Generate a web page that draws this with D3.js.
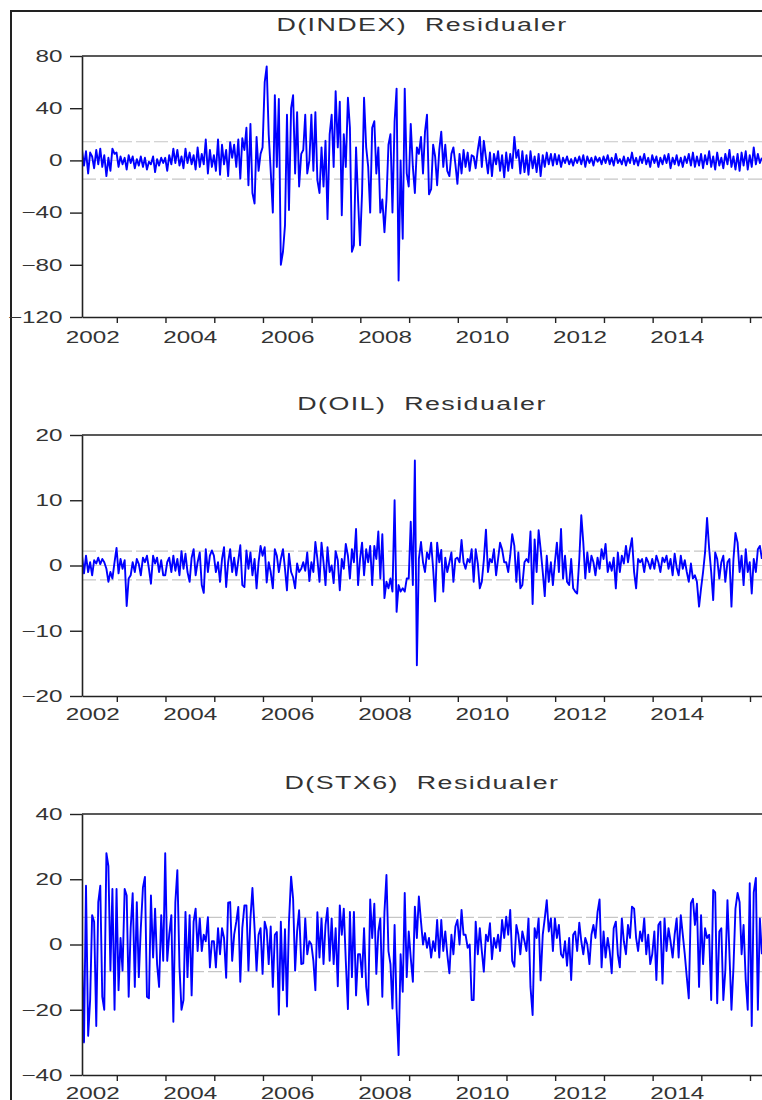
<!DOCTYPE html>
<html>
<head>
<meta charset="utf-8">
<script src="https://cdn.jsdelivr.net/npm/d3@7"></script>
<style>
  body{margin:0;background:#fff;}
  text{font-family:"Liberation Sans",Arial,sans-serif;}
</style>
</head>
<body>
<svg id="chart" width="762" height="1100"></svg>
<script>
'use strict';
// half-monthly residuals, first point mid April 2002
var startDate = new Date(2002, 3, 15),
    endDate = new Date(2016, 3, 15),
    perYear = 24;

var indexResid = [
  8, -4, 7, -10, 6, 3, -6, 8, -3, 9, -5, 4, -12, 2, -8, 9, 5,                           //2002
  6, -5, 3, -3, 2, -7, 4, -2, 3, -6, 1, -4, 3, -5, 2, -7, -1, -3, 3, -9, 1, -4, 2, -2,   //2003
  2, -8, 4, -3, 9, -2, 8, -4, 3, -6, 9, -2, 6, -3, 4, -7, 10, -5, 5, -3, 16, -10, 8, -5, //2004
  4, -8, 16, -11, 12, -3, 8, -12, 14, 2, 12, -5, 16, -14, 17, 8, 25, -19, 28, -25, -33, 18, -8, 5,
  10, 60, 72, 20, -8, -40, 50, -5, 47, -80, -70, -50, 35, -38, 40, 50, -10, 37, -20, 5, 8, 35, -10, 0,
  35, -8, 37, -15, -25, 10, -20, 15, -45, 20, 35, -5, 53, 10, 45, -42, 20, -5, 48, 25, -70, -65, 10, -30,
  -65, -25, 48, 10, -5, -40, 25, 30, -10, 10, -40, -30, -55, -30, 12, 20, -40, 30, 55, -92, 0, -60, 55, -10,
  -20, 28, -5, -25, 10, 5, 18, -10, 22, 35, -26, -22, 12, 3, -19, 8, 22, -5, 12, -8, -12, 5, 10, -3,
  -18, 5, -10, 8, -5, 6, -8, 4, 3, -6, 8, 18, -5, 15, 2, -10, 6, -12, 5, -3, 7, -8, 4, -13,
  6, -8, 5, -6, 18, 2, 8, -10, 7, -9, 4, -11, 7, -6, 3, -9, 5, -12, 4, -5, 6, -3, 5, -4,
  5, -3, 4, -5, 2, -2, 3, -3, 1, -4, 2, -2, 3, -3, 4, -5, 3, -2, 2, -4, 3, -1, 2, -3,
  3, -2, 4, -3, 2, -4, 5, -2, 1, -3, 3, -4, 2, -2, 6, -3, 2, -4, 3, -2, 5, -3, 2, -5,
  4, -2, 3, -5, 2, -3, 4, -2, 5, -6, 2, -3, 4, -4, 2, -5, 3, -2, 5, -4, 6, -5, 3, -4,
  5, -6, 4, -3, 7, -5, 3, -7, 6, -4, 2, -6, 5, -3, 8, -5, 3, -7, 5, -8, 6, -4, 7, -7,
  4, -5, 10, -3, 5, -2, 2                                                               //2016
];

var oilResid = [
  1.5, -1.2, 1.5, -1, 0.5, -1.5, 0.8, 0.3, 1.2, 0.2, 1, 0.5, -0.5, -2.5, -1, -2, 0.5,
  2.7, -1.2, 1, -0.5, 0.8, -6.2, -2, -1.5, 0.5, -1, 1, 0.2, -1.5, 1.2, 0.5, 1.5, -0.5, -2.8, 1.5, 0.3, 1.2, -1, 0.8, -1.5,
  -1.5, 0.5, 1.2, -1, 1.5, -0.8, 1, -1.5, 2.2, -0.5, 1.8, -1, -2.5, 1.2, 2.5, -1.5, 0.5, 2, -3, -4.2, 2.5, -1, 1.5, 2.3,
  1.5, -1, 0.5, -2.5, 1, 2.8, -3.3, 0.5, 2.5, -1, 1.2, -1.5, 0.8, 3.1, -3, -3.3, 2.3, -0.5, 2, -1.5, 1, -3.5, 0.5, 3,
  1.5, 2.8, -2.6, 0.5, -1, -3.5, 2.5, 1.5, -1, 1, 2.5, -0.5, -3.8, 1.8, -1, -1.8, -3.5, 0.3, -1, -0.5, 0.5, -0.8, 2, -2.4,
  0.5, -1, 3.6, 1, -2.5, 3.5, 0.5, -3, 2.8, -1, 0, -2.7, 2.2, 0.8, -3.8, 1, -0.5, 3.3, 1.5, -2, 2.5, 0.5, 5.6, -3,
  1, 3.5, -1.5, 2.5, 0.5, 3, -3, 3, 1, 5.2, -2, 4.8, -5, -2.5, -3.5, -2, -4, 10, -7.1, -3, -4, -3.5, -4, -2,
  -2, 6.7, -3, 16.1, -15.3, 1, 3.6, 0.5, -1, 2, 1, 3.5, -0.5, -5.5, 3.5, 0.5, 2.4, -4, 1.2, -1, 0.5, 2, -2.5, 1,
  1.2, 0.5, 3.9, 0.5, -0.5, 1, 0.5, 2.5, -2.5, 2.5, 0.3, -3.5, -2.5, 0.8, 5.5, -1, 1, 0.5, 2.5, -1.5, 1, 3.5, 2.5, 0.5,
  0.5, -1, 1.5, 4.8, 3, -2.5, 2, -3.5, -3, 0.5, 1, 0.5, 5.2, -5.9, 4, -1, 5.4, 2.5, -1, -4.7, 1.5, -2.5, 0.5, -3,
  0.5, 3.5, -1, 5.6, -2, 1.5, -2.5, -3, 1, -3.5, -4, -4.3, 1, 7.7, 3.5, -2, 2, -1, 1.5, 0.5, -1.5, 1.2, -0.5, 2.5,
  1, 3.3, -1, 0.5, -0.8, 1.2, -3.5, 2, -1, 1.5, 0.3, 3, 0.5, 2.5, 4.2, -1, -3.5, 1, 0.5, 1, -1, 1.2, 0.5, -0.5,
  1, -0.5, 1.5, 0.5, -1, 1.2, 0.5, 1.5, -0.5, 1, -1.5, 1.8, -0.3, -1.5, 1.5, -0.5, 0.8, -1, -2.5, 0.3, -2, -1.5, -2.5, -6.3,
  -3.5, -1, 2, 7.3, 2.5, -1, -5.3, 2, 1, -2, 0.5, 1.5, -2.5, 0.5, 1, -6.3, 1, 5, 3.5, -1, 1.5, -3, 2.5, -1,
  0.5, -4.3, 1, -1, 2.5, 3, 1
];

var stxResid = [
  -3, -30, 18, -28, -17, 9, 7, -25, 13, 18, -16, -20, 28, 24, -8, 17, -20,
  17, -14, 2, -8, 17, 15, -16, 5, 15.7, -13, 13, -10, 5, 17.5, 20.7, -16, -16.5, 15, -4, 11, -6, -13, 9, -5,
  28, -5, 3, 9, -23.7, 13, 22.8, -7, -20, -17, 10, -10, 9, -15.6, 7, 11, -2, 8, -2, 3, 1, 8.4, -7, 1,
  1, -7, 5, -3, 5, 2, -10.2, 12.8, 13, -5, 3, 7, 11.5, -11.4, 5, 12, 12, -8, 8, 17.3, 5, -8, 3, 5,
  -9, 7, 4.5, -6, 5.5, -13, 3, 3.8, -21.5, 7, -14, 4.7, -19, 7, 20.8, 14, -8, 4, 10.5, -6, -5.8, 8, -3, 1,
  0, -5, -14, 9.9, -4, 8, -6, 6, 11.2, -5, 8, -6, 5, -12.8, 12, 3, 11, -5, -19.8, 10, -10, 10, -15.6, -3,
  -3, -10, 5, -13, -18.5, 13.8, 2, 12.5, -9, 4, 8, -16, 10, 21.3, -2, -6, -19.6, 6, -19.6, -33.9, -3, -14.5, 15.8, -10,
  4, -4, -11.4, 11.6, 2, 14.7, 7, 0, 3.5, -1, 2, -4, 1, -2, 7.5, -4, 7.5, -2, 4, -3, -8.8, 3, -3, 5.5,
  7.5, 0, 10.6, 3, 3, -1, 0, -17, -17, 7, -3, 5, -2, -8.3, 3, 1, 6.5, -4.5, 2, -1, 3, -2, 7.5, 2,
  8.5, 3, 10.6, -5, -6.8, 6, 3, -3, 4, 1, -2, 8, -13, -21.6, 5, 2, 8, -11, 3, 8, 13.6, 4, 8, -2,
  8, 2, 6, -3, -4, 1, -6.5, 2, -10.9, 3, 4, -2, 6.7, 1, -3, 2, 0, -6, 3, 6, 2, 10, 13.8, -7,
  4, -4, 2, -2, -8.8, 5, 7, -3, -7, 8, 1, -3, 6, 2, 11.6, 11, 2, -2, 4, 1, 8, -3, 3, -6,
  -3, 4, -10.9, 6, 7, -12, 8, -2, 5, 1, -4, 3, 8, -4, 9, 3, -3, -10, -16.5, 12.7, 14, 6, 12.5, -13,
  9, -6, 5, 2, 3, -17, 16.7, 16, -18, 4, 5, -17, -8, 13.6, -3, -20, -7, 11, 15.8, 13, -3, 6, -11, -20,
  18.8, -25, 16, 20.4, -20, 8, -3
];

var titles = ['D(INDEX)  Residualer', 'D(OIL)  Residualer', 'D(STX6)  Residualer'];
var indexTicks = [-120, -80, -40, 0, 40, 80],
    oilTicks = [-20, -10, 0, 10, 20],
    stxTicks = [-40, -20, 0, 20, 40];
var bandLevels = [14.3, 2.2, 8.3];   // +/- dashed lines
var yearLabels = [2002, 2004, 2006, 2008, 2010, 2012, 2014];

var panels = [
  {title: titles[0], values: indexResid, ticks: indexTicks, band: bandLevels[0], top: 56,  labelPad: 14},
  {title: titles[1], values: oilResid,   ticks: oilTicks,   band: bandLevels[1], top: 435, labelPad: 12},
  {title: titles[2], values: stxResid,   ticks: stxTicks,   band: bandLevels[2], top: 814, labelPad: 12}
];

var plotLeft = 82, plotRight = 764, plotH = 261,
    axisColor = '#222', textColor = '#333',
    numScale = 1.47, titleScale = 1.45;

var svg = d3.select('#chart');

// outer frame (left + top only, the rest is cut off)
svg.append('path')
   .attr('d', 'M11,1100V11H762')
   .style('fill', 'none')
   .style('stroke', axisColor)
   .style('stroke-width', 2);

var x = d3.scaleTime().domain([startDate, endDate]).range([plotLeft, plotRight]);

var dateAt = function(i){
    return d3.timeDay.offset(startDate, Math.round(i * 365.25 / perYear));
};

panels.forEach(function(p, k){
    var y = d3.scaleLinear()
              .domain(d3.extent(p.ticks))
              .range([p.top + plotH, p.top]);
    var g = svg.append('g').attr('class', 'panel');
    var rows = p.values.map(function(v, i){ return {date: dateAt(i), value: v}; });

    g.append('clipPath').attr('id', 'clip' + k)
     .append('rect')
       .attr('x', plotLeft).attr('y', p.top)
       .attr('width', plotRight - plotLeft).attr('height', plotH);

    // zero line + dashed band
    g.append('line')
       .attr('x1', plotLeft).attr('x2', plotRight)
       .attr('y1', y(0)).attr('y2', y(0))
       .style('stroke', '#d2d2d2').style('stroke-width', 1);
    g.selectAll('line.band')
       .data([p.band, -p.band])
       .enter()
       .append('line').attr('class', 'band')
       .attr('x1', plotLeft).attr('x2', plotRight)
       .attr('y1', function(d){ return y(d); })
       .attr('y2', function(d){ return y(d); })
       .style('stroke', '#c6c6c6')
       .style('stroke-width', 1.2)
       .style('stroke-dasharray', '14,4');

    var line = d3.line()
                 .x(function(d){ return x(d.date); })
                 .y(function(d){ return y(d.value); });
    g.append('path')
       .datum(rows)
       .attr('clip-path', 'url(#clip' + k + ')')
       .attr('d', line)
       .style('fill', 'none')
       .style('stroke', '#0000ff')
       .style('stroke-width', 1.9)
       .style('stroke-linejoin', 'round');

    // top border
    g.append('line')
       .attr('x1', plotLeft).attr('x2', plotRight)
       .attr('y1', p.top).attr('y2', p.top)
       .style('stroke', axisColor).style('stroke-width', 1.6);

    // y axis
    var yAxis = d3.axisLeft(y).tickValues(p.ticks).tickSize(12).tickSizeOuter(0).tickFormat(d3.format('d'));
    var ya = g.append('g')
              .attr('transform', 'translate(' + plotLeft + ',0)')
              .call(yAxis);
    ya.select('.domain').style('stroke', axisColor).style('stroke-width', 1.6);
    ya.selectAll('.tick line').style('stroke', axisColor).style('stroke-width', 1.4);
    ya.selectAll('.tick text')
      .attr('x', -19.5 / numScale)
      .attr('transform', 'scale(' + numScale + ',1)')
      .style('font-size', '16.5px')
      .style('fill', textColor);

    // x axis: year ticks, labels centred inside even years
    var xa = g.append('g')
              .attr('transform', 'translate(0,' + (p.top + plotH) + ')')
              .call(d3.axisBottom(x).ticks(d3.timeYear.every(1)).tickSize(6).tickSizeOuter(0).tickFormat(''));
    xa.select('.domain').style('stroke', axisColor).style('stroke-width', 1.6);
    xa.selectAll('.tick line').style('stroke', axisColor).style('stroke-width', 1.4);

    var xl = g.append('g')
              .attr('transform', 'translate(0,' + (p.top + plotH) + ')')
              .call(d3.axisBottom(x)
                      .tickValues(yearLabels.map(function(yr){ return new Date(yr, 6, 1); }))
                      .tickSize(0).tickPadding(p.labelPad)
                      .tickFormat(d3.timeFormat('%Y')));
    xl.select('.domain').remove();
    xl.selectAll('.tick text')
      .attr('transform', 'scale(' + numScale + ',1)')
      .style('font-size', '16.5px')
      .style('fill', textColor);

    // title
    g.append('g')
       .attr('transform', 'translate(' + ((plotLeft + 762) / 2) + ',' + (p.top - 25) + ') scale(' + titleScale + ',1)')
       .append('text')
       .text(p.title)
       .attr('text-anchor', 'middle')
       .style('font-size', '18.5px')
       .style('letter-spacing', '1px')
       .style('white-space', 'pre')
       .style('fill', textColor);
});
</script>
</body>
</html>
